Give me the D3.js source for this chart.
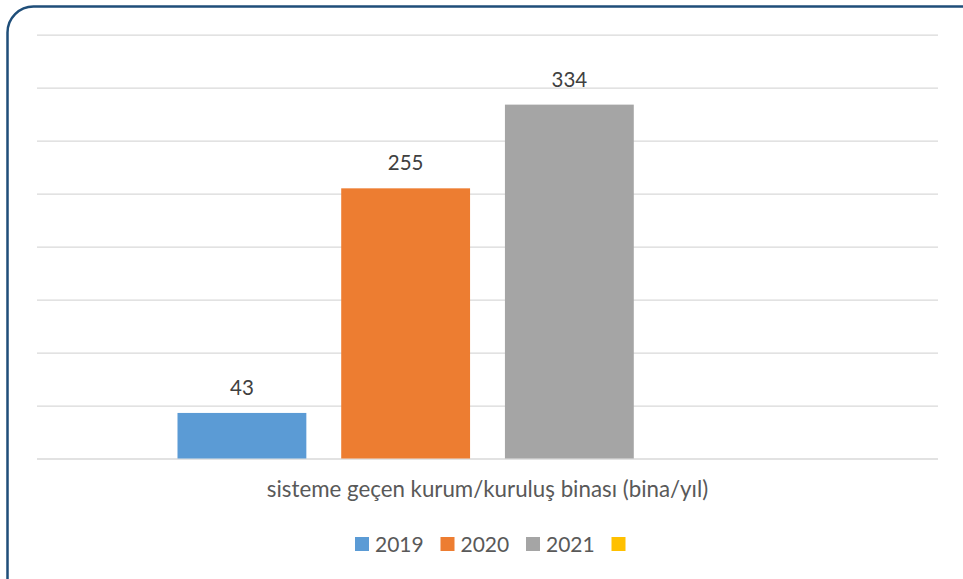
<!DOCTYPE html>
<html>
<head>
<meta charset="utf-8">
<script src="https://cdn.jsdelivr.net/npm/d3@7"></script>
<style>
  html, body { margin: 0; padding: 0; background: #fff; }
  svg { display: block; }
  text { font-family: Lato, "Open Sans", sans-serif; }
</style>
</head>
<body>
<svg id="chart" width="963" height="579"></svg>
<script>
// Chart data
const category = "sisteme geçen kurum/kuruluş binası (bina/yıl)";
const seriesNames = ["2019", "2020", "2021", ""];
const seriesValues = [43, 255, 334, null];
const seriesColors = ["#5B9BD5", "#ED7D31", "#A5A5A5", "#FFC000"];
const yTicks = [0, 50, 100, 150, 200, 250, 300, 350, 400];

const svg = d3.select("#chart");

// Rounded frame around the chart area
svg.append("rect")
  .attr("x", 7.5).attr("y", 6.5)
  .attr("width", 980).attr("height", 600)
  .attr("rx", 26).attr("ry", 26)
  .attr("fill", "#fff")
  .attr("stroke", "#1F4E79")
  .attr("stroke-width", 2.5);

const plot = { left: 37, right: 938, top: 34.7, bottom: 458.5 };

const y = d3.scaleLinear().domain([0, 400]).range([plot.bottom, plot.top]);

// Horizontal gridlines
svg.append("g")
  .attr("transform", `translate(${plot.left},0)`)
  .call(d3.axisLeft(y).tickValues(yTicks).tickSize(-(plot.right - plot.left)).tickFormat(""))
  .call(g => g.select(".domain").remove())
  .call(g => g.selectAll(".tick line").attr("stroke", "#D9D9D9").attr("stroke-width", 1.3));

// Single category band containing all series
const x0 = d3.scaleBand().domain([category]).range([plot.left, plot.right]).paddingInner(0).paddingOuter(0.2266);
const x1 = d3.scaleBand().domain(seriesNames.map((d, i) => i)).range([0, x0.bandwidth()]).paddingInner(0.213).paddingOuter(0);

const bars = seriesNames.map((name, i) => ({ name, value: seriesValues[i], color: seriesColors[i], i }))
  .filter(d => d.value != null);

const g = svg.append("g").attr("transform", `translate(${x0(category)},0)`);

g.selectAll("rect.bar").data(bars).join("rect")
  .attr("class", "bar")
  .attr("x", d => x1(d.i))
  .attr("width", x1.bandwidth())
  .attr("y", d => y(d.value))
  .attr("height", d => y(0) - y(d.value))
  .attr("fill", d => d.color);

g.selectAll("text.val").data(bars).join("text")
  .attr("class", "val")
  .attr("x", d => x1(d.i) + x1.bandwidth() / 2)
  .attr("y", d => y(d.value) - 18)
  .attr("text-anchor", "middle")
  .attr("font-size", 20.5)
  .attr("fill", "#404040")
  .text(d => d.value);

// Category axis label
svg.append("text")
  .attr("x", x0(category) + x0.bandwidth() / 2)
  .attr("y", 497)
  .attr("text-anchor", "middle")
  .attr("font-size", 22.3)
  .attr("fill", "#595959")
  .text(category);

// Legend
const legendItems = seriesNames.map((name, i) => ({ name, color: seriesColors[i] }));
const legend = svg.append("g");
let lx = 355;
legendItems.forEach(d => {
  legend.append("rect")
    .attr("x", lx).attr("y", 537)
    .attr("width", 14).attr("height", 14)
    .attr("fill", d.color);
  legend.append("text")
    .attr("x", lx + 20).attr("y", 551.5)
    .attr("font-size", 21)
    .attr("fill", "#595959")
    .text(d.name);
  lx += 85.5;
});
</script>
</body>
</html>
